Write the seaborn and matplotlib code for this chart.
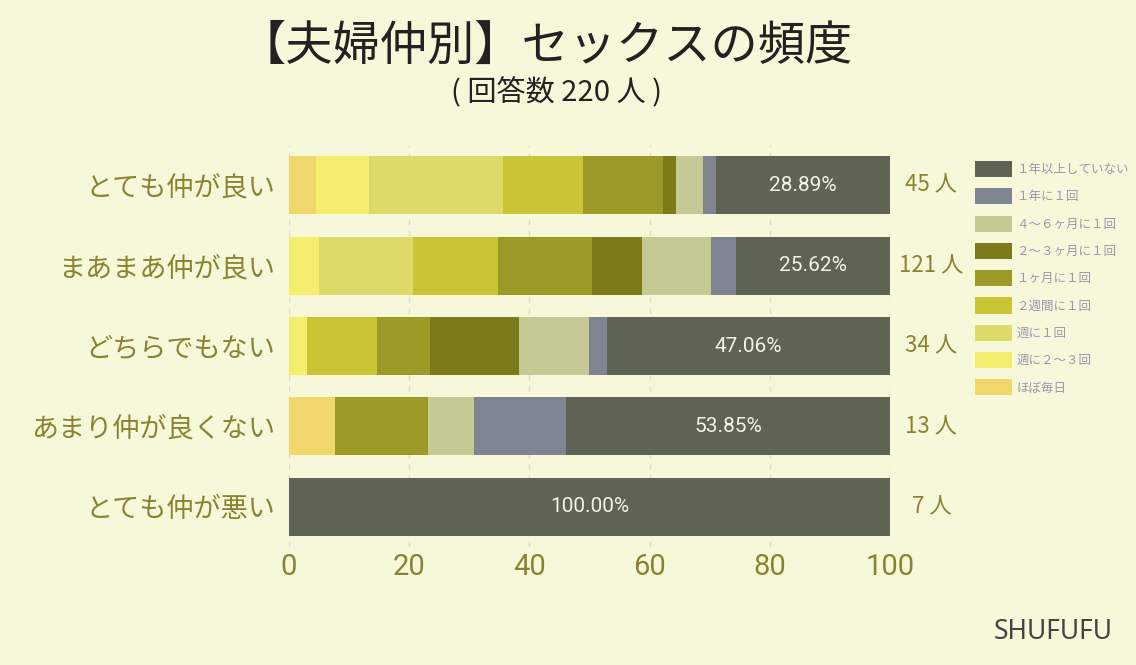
import numpy as np
import pandas as pd
import matplotlib
matplotlib.use('Agg')
import matplotlib.pyplot as plt
from matplotlib.patches import Patch
import seaborn as sns

# ============================================================
# DATA (respondent counts per relationship group)
# ============================================================
groups = ['とても仲が良い', 'まあまあ仲が良い', 'どちらでもない', 'あまり仲が良くない', 'とても仲が悪い']
group_n = [45, 121, 34, 13, 7]

# stacking order, left to right
freq_labels = ['ほぼ毎日', '週に２〜３回', '週に１回', '２週間に１回', '１ヶ月に１回',
               '２〜３ヶ月に１回', '４〜６ヶ月に１回', '１年に１回', '１年以上していない']
freq_colors = ['#F1D66B', '#F4EE6E', '#DEDA6A', '#C9C534', '#9C9A27',
               '#7D7A1A', '#C5C993', '#7F8590', '#5F6354']

counts_hobo_mainichi = [2, 0, 0, 1, 0]
counts_shu_2_3 = [4, 6, 1, 0, 0]
counts_shu_1 = [10, 19, 0, 0, 0]
counts_2shukan = [6, 17, 4, 0, 0]
counts_1kagetsu = [6, 19, 3, 2, 0]
counts_2_3kagetsu = [1, 10, 5, 0, 0]
counts_4_6kagetsu = [2, 14, 4, 1, 0]
counts_1nen = [1, 5, 1, 2, 0]
counts_1nen_ijo = [13, 31, 16, 7, 7]

counts = np.array([counts_hobo_mainichi, counts_shu_2_3, counts_shu_1, counts_2shukan,
                   counts_1kagetsu, counts_2_3kagetsu, counts_4_6kagetsu, counts_1nen,
                   counts_1nen_ijo], dtype=float)
share = counts / np.array(group_n) * 100
cum = np.cumsum(share, axis=0)

# ============================================================
# STYLE
# ============================================================
bg = '#F7F8DA'
olive = '#8A8431'
sns.set_style('white')
plt.rcParams['font.family'] = ['Noto Sans CJK JP', 'DejaVu Sans']

fig = plt.figure(figsize=(11.36, 6.65), dpi=100, facecolor=bg)
ax = fig.add_axes([0.2544, 0.1774, 0.529, 0.6045])
ax.set_facecolor(bg)

# stacked bars: draw cumulative totals from the right-most segment backwards
for i in reversed(range(len(freq_labels))):
    df = pd.DataFrame({'group': groups, 'value': cum[i]})
    sns.barplot(data=df, x='value', y='group', color=freq_colors[i], orient='h',
                width=0.72, saturation=1, linewidth=0, ax=ax, zorder=3)

# percentage of "1年以上していない" in the last segment + group size on the right
for j, g in enumerate(groups):
    left = cum[-2][j]
    ax.text((left + 100) / 2, j, f'{share[-1][j]:.2f}%', color='#F2F2EA',
            fontsize=15, ha='center', va='center', zorder=5,
            family=['Roboto', 'DejaVu Sans'])
    ax.text(106.9, j, f'{group_n[j]} 人', color=olive, fontsize=16,
            ha='center', va='center', clip_on=False)

ax.set_xlim(0, 100)
ax.set_ylim(4.5, -0.5)
ax.set_xticks([0, 20, 40, 60, 80, 100])
ax.grid(axis='x', color='#DCDCCF', linestyle=(0, (4, 4)), linewidth=1, zorder=0)
ax.grid(axis='y', visible=False)
for s in ax.spines.values():
    s.set_visible(False)
ax.set_xlabel('')
ax.set_ylabel('')
ax.tick_params(axis='x', colors=olive, labelsize=21, length=0, pad=4)
ax.tick_params(axis='y', colors=olive, labelsize=19.5, length=0, pad=10)
for t in ax.get_xticklabels():
    t.set_family(['Roboto', 'DejaVu Sans'])

# legend (reverse order, top = 1年以上していない)
handles = [Patch(facecolor=freq_colors[i], edgecolor='none', label=freq_labels[i])
           for i in reversed(range(len(freq_labels)))]
leg = fig.legend(handles=handles, loc='upper left', bbox_to_anchor=(0.848, 0.775),
                 frameon=False, fontsize=9, handlelength=3.0, handleheight=1.6,
                 labelspacing=0.9, handletextpad=0.35)
for t in leg.get_texts():
    t.set_color('#9A98AE')

fig.text(0.48, 0.93, '【夫婦仲別】セックスの頻度', fontsize=34, color='#222222',
         ha='center', va='center')
fig.text(0.49, 0.86, '( 回答数 220 人 )', fontsize=21, color='#222222',
         ha='center', va='center')
fig.text(0.927, 0.05, 'SHUFUFU', fontsize=19, color='#444444',
         ha='center', va='center', family=['Noto Sans', 'DejaVu Sans'])

fig.savefig('out.png', dpi=100, facecolor=bg)
